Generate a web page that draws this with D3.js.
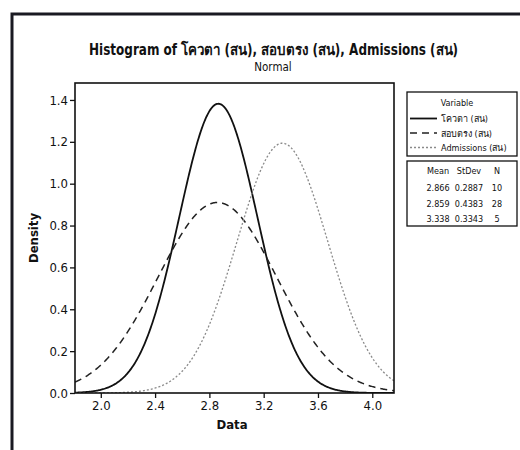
<!DOCTYPE html>
<html><head><meta charset="utf-8">
<script src="https://cdn.jsdelivr.net/npm/d3@7"></script>
<style>
html,body{margin:0;padding:0;background:#fff;}
svg{display:block;}
text{font-family:"DejaVu Sans Condensed","DejaVu Sans","Noto Sans",sans-serif;fill:#111;}
</style></head>
<body>
<svg id="chart" width="520" height="450"></svg>
<script>
// ---- data ----
const variables = ["โควตา (สน)", "สอบตรง (สน)", "Admissions (สน)"];
const means = [2.866, 2.859, 3.338];
const stdevs = [0.2887, 0.4383, 0.3343];
const counts = [10, 28, 5];
const xTicks = [2.0, 2.4, 2.8, 3.2, 3.6, 4.0];
const yTicks = [0.0, 0.2, 0.4, 0.6, 0.8, 1.0, 1.2, 1.4];
const xDomain = [1.81, 4.16];
const yDomain = [0, 1.481];

const styles = [
  {stroke:"#111", width:1.8, dash:null},
  {stroke:"#222", width:1.5, dash:"7,5"},
  {stroke:"#8a8a8a", width:1.3, dash:"2,2"}
];

const svg = d3.select("#chart");
// outer frame
svg.append("path").attr("d","M12,452 L12,14 L522,14")
  .attr("fill","none").attr("stroke","#1a1a22").attr("stroke-width",3);

const L=75, R=394, T=83, B=393;
const x = d3.scaleLinear().domain(xDomain).range([L,R]);
const y = d3.scaleLinear().domain(yDomain).range([B,T]);

// title
svg.append("text").attr("x",273.5).attr("y",55).attr("text-anchor","middle")
  .attr("font-size",15).attr("font-weight","bold")
  .attr("textLength",369).attr("lengthAdjust","spacingAndGlyphs")
  .text("Histogram of " + variables.join(", "));
svg.append("text").attr("x",273).attr("y",71).attr("text-anchor","middle")
  .attr("font-size",11.5).text("Normal");

// curves (normal density from listed mean/stdev)
const pdf = (v,m,s)=> Math.exp(-0.5*((v-m)/s)**2)/(s*Math.sqrt(2*Math.PI));
const xs = d3.range(0,401).map(i=> xDomain[0] + (xDomain[1]-xDomain[0])*i/400);
const line = d3.line().x(d=>x(d[0])).y(d=>y(d[1]));
svg.append("clipPath").attr("id","pc").append("rect")
  .attr("x",L).attr("y",T).attr("width",R-L).attr("height",B-T);
means.forEach((m,i)=>{
  svg.append("path").attr("clip-path","url(#pc)")
    .datum(xs.map(v=>[v,pdf(v,m,stdevs[i])]))
    .attr("d",line).attr("fill","none")
    .attr("stroke",styles[i].stroke).attr("stroke-width",styles[i].width)
    .attr("stroke-dasharray",styles[i].dash);
});

// axes
const xa = svg.append("g").attr("transform",`translate(0,${B})`)
  .call(d3.axisBottom(x).tickValues(xTicks).tickFormat(d3.format(".1f")).tickSizeOuter(0).tickSize(5).tickPadding(3));
const ya = svg.append("g").attr("transform",`translate(${L},0)`)
  .call(d3.axisLeft(y).tickValues(yTicks).tickFormat(d3.format(".1f")).tickSizeOuter(0).tickSize(5).tickPadding(2));
[xa,ya].forEach(g=>{
  g.select(".domain").remove();
  g.selectAll("line").attr("stroke","#111").attr("stroke-width",1.3);
  g.selectAll("text").attr("font-size",13).attr("fill","#111")
    .attr("font-family",'"DejaVu Sans Condensed","DejaVu Sans",sans-serif');
});
svg.append("rect").attr("x",L).attr("y",T).attr("width",R-L).attr("height",B-T)
  .attr("fill","none").attr("stroke","#111").attr("stroke-width",1.6);

svg.append("text").attr("x",232).attr("y",429).attr("text-anchor","middle")
  .attr("font-size",13).attr("font-weight","bold").text("Data");
svg.append("text").attr("transform","translate(38,238) rotate(-90)").attr("text-anchor","middle")
  .attr("font-size",13).attr("font-weight","bold").text("Density");

// legend box 1
const lx=407, lw=110, fs=9;
svg.append("rect").attr("x",lx).attr("y",92).attr("width",lw).attr("height",64)
  .attr("fill","#fff").attr("stroke","#111").attr("stroke-width",1.3);
svg.append("text").attr("x",457).attr("y",106).attr("font-size",fs).attr("text-anchor","middle").text("Variable");
variables.forEach((v,i)=>{
  const yy = 122 + i*14.5;
  svg.append("line").attr("x1",lx+3).attr("x2",lx+30).attr("y1",yy-3.5).attr("y2",yy-3.5)
    .attr("stroke",styles[i].stroke).attr("stroke-width",styles[i].width)
    .attr("stroke-dasharray",styles[i].dash);
  svg.append("text").attr("x",lx+34).attr("y",yy).attr("font-size",fs).text(v);
});
// legend box 2
svg.append("rect").attr("x",lx).attr("y",161).attr("width",lw).attr("height",65)
  .attr("fill","#fff").attr("stroke","#111").attr("stroke-width",1.3);
const colX=[438,469,497];
const heads=["Mean","StDev","N"];
heads.forEach((h,j)=> svg.append("text").attr("x",colX[j]).attr("y",174).attr("font-size",fs)
  .attr("text-anchor","middle").text(h));
means.forEach((m,i)=>{
  const yy=191+i*15.5;
  const vals=[d3.format(".3f")(m), d3.format(".4f")(stdevs[i]), String(counts[i])];
  vals.forEach((t,j)=>{
    svg.append("text").attr("x",colX[j]).attr("y",yy).attr("font-size",fs)
      .attr("text-anchor","middle").text(t);
  });
});
</script>
</body></html>
